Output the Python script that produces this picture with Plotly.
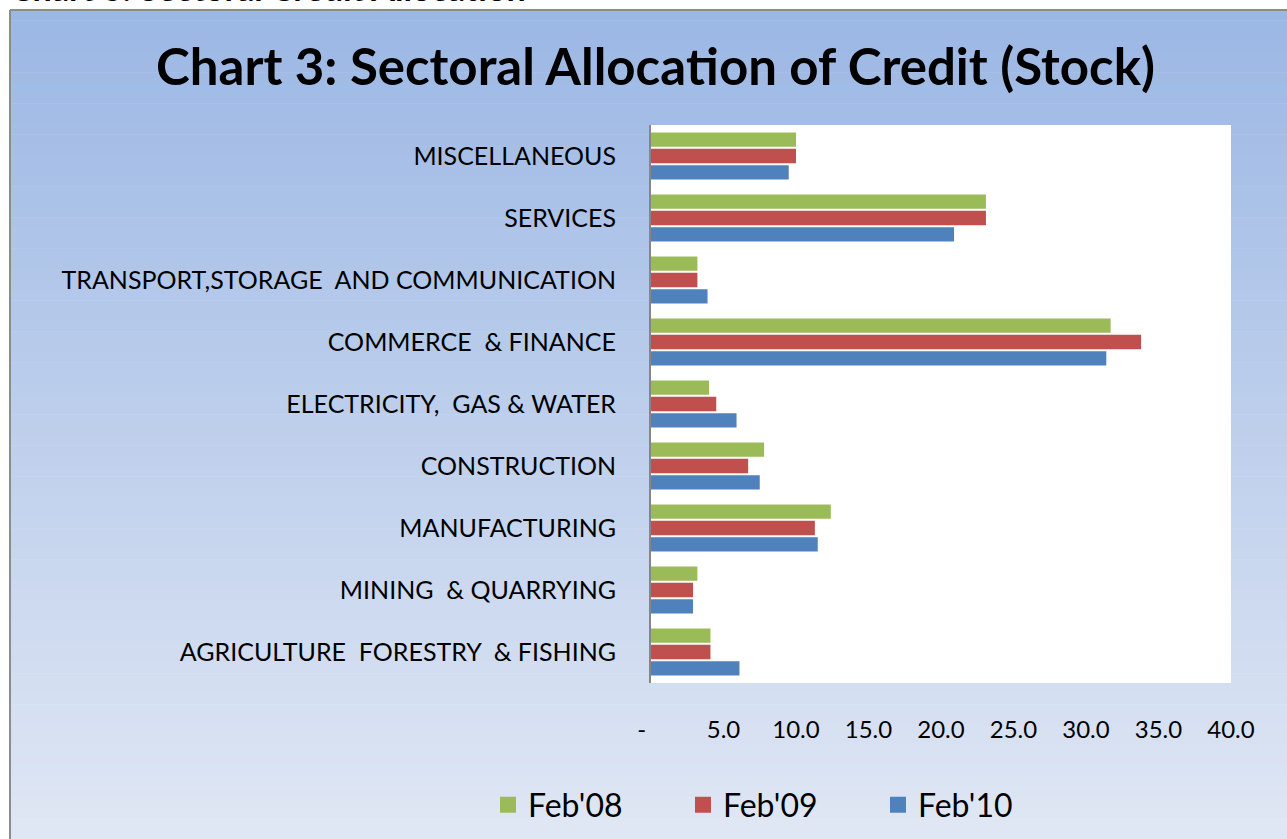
import plotly.graph_objects as go

# ---- data ----
NB = "\u00a0"
categories = [
    "AGRICULTURE" + NB + " FORESTRY" + NB + " & FISHING",
    "MINING" + NB + " & QUARRYING",
    "MANUFACTURING",
    "CONSTRUCTION",
    "ELECTRICITY," + NB + " GAS & WATER",
    "COMMERCE" + NB + " & FINANCE",
    "TRANSPORT,STORAGE" + NB + " AND COMMUNICATION",
    "SERVICES",
    "MISCELLANEOUS",
]
feb08 = [4.1, 3.2, 12.4, 7.8, 4.0, 31.7, 3.2, 23.1, 10.0]
feb09 = [4.1, 2.9, 11.3, 6.7, 4.5, 33.8, 3.2, 23.1, 10.0]
feb10 = [6.1, 2.9, 11.5, 7.5, 5.9, 31.4, 3.9, 20.9, 9.5]
series_names = ["Feb'08", "Feb'09", "Feb'10"]
colors = ["#9BBB59", "#C0504D", "#4F81BD"]
x_tickvals = [0, 5, 10, 15, 20, 25, 30, 35, 40]
x_ticktext = ["-" + NB * 3, "5.0", "10.0", "15.0", "20.0", "25.0", "30.0", "35.0", "40.0"]

# ---- geometry ----
W, H = 1287, 839
L, R, T, B = 651, 56, 125, 156
PW, PH = W - L - R, H - T - B


def px(x):
    return (x - L) / PW


def py(y):
    return (H - B - y) / PH


FONT = "Lato"
fig = go.Figure()

values = [feb08, feb09, feb10]
# add in reverse so Feb'08 is the top bar in each group
for i in [2, 1, 0]:
    fig.add_trace(go.Bar(
        y=categories, x=values[i], orientation="h", name=series_names[i],
        marker=dict(color=colors[i], line=dict(width=0)), showlegend=False,
    ))
# legend-only entries
for i in range(3):
    fig.add_trace(go.Scatter(
        x=[None], y=[None], mode="markers", name=series_names[i],
        marker=dict(symbol="square", size=18, color=colors[i]),
    ))

# background gradient
shapes = []
top_c = (155, 183, 228)
bot_c = (224, 231, 244)
y0p, y1p = 10, H
N = 80
for k in range(N):
    ya = y0p + (y1p - y0p) * k / N
    yb = y0p + (y1p - y0p) * (k + 1) / N
    t = (k + 0.5) / N
    c = tuple(int(round(top_c[j] + (bot_c[j] - top_c[j]) * t)) for j in range(3))
    shapes.append(dict(type="rect", xref="paper", yref="paper",
                       x0=px(10), x1=px(W + 5), y0=py(yb + 0.5), y1=py(ya),
                       fillcolor="rgb(%d,%d,%d)" % c, line=dict(width=0), layer="below"))
# white plot area
shapes.append(dict(type="rect", xref="paper", yref="paper", x0=0, x1=1, y0=0, y1=1,
                   fillcolor="white", line=dict(width=0), layer="below"))
# frame border
shapes.append(dict(type="line", xref="paper", yref="paper", x0=px(10), x1=px(10),
                   y0=py(10), y1=py(H + 5), line=dict(color="#8C8C8C", width=2)))
shapes.append(dict(type="line", xref="paper", yref="paper", x0=px(10), x1=px(W + 5),
                   y0=py(10), y1=py(10), line=dict(color="#8C8C8C", width=2)))

annotations = [
    dict(text="<b>Chart 3: Sectoral Alloca\u200ction of Credit (Stock)</b>", xref="paper", yref="paper",
         x=px(655), y=py(65), xanchor="center", yanchor="middle", showarrow=False,
         font=dict(family=FONT, size=51, color="black")),
    dict(text="<b>Chart 3: Sectoral Credit Alloca\u200ction</b>", xref="paper", yref="paper",
         x=px(8), y=py(-12.5), xanchor="left", yanchor="middle", showarrow=False,
         font=dict(family=FONT, size=34, color="black")),
]

fig.update_layout(
    width=W, height=H,
    margin=dict(l=L, r=R, t=T, b=B, pad=0, autoexpand=False),
    paper_bgcolor="white", plot_bgcolor="white",
    barmode="group", bargap=0.21, bargroupgap=0.12,
    font=dict(family=FONT, color="black"),
    shapes=shapes, annotations=annotations,
    xaxis=dict(range=[0, 40], tickvals=x_tickvals, ticktext=x_ticktext, showgrid=False,
               zeroline=False, showline=False, ticks="", ticklabelstandoff=30,
               tickfont=dict(family=FONT, size=24, color="black")),
    yaxis=dict(showgrid=False, zeroline=False, showline=True, linecolor="#868686", linewidth=2,
               ticks="", ticklabelstandoff=28, categoryorder="array", categoryarray=categories,
               tickfont=dict(family=FONT, size=25, color="black")),
    legend=dict(orientation="h", x=px(488), y=py(805), xanchor="left", yanchor="middle",
                font=dict(family=FONT, size=32, color="black"), bgcolor="rgba(0,0,0,0)",
                itemwidth=30, entrywidth=150, traceorder="normal"),
)

fig.write_html("out.html")
